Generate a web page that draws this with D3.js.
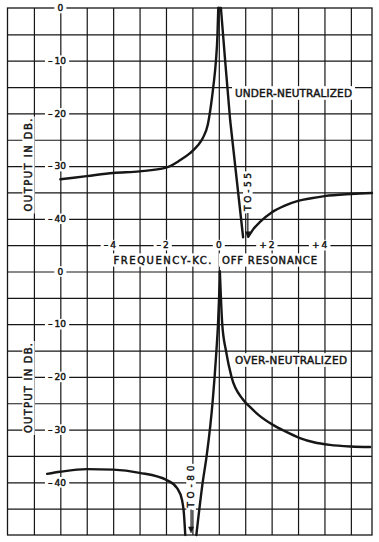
<!DOCTYPE html>
<html><head><meta charset="utf-8">
<script src="https://cdn.jsdelivr.net/npm/d3@7/dist/d3.min.js"></script>
<style>
html,body{margin:0;padding:0;background:#fff;}
svg{display:block;}
text{font-family:"DejaVu Sans",sans-serif;font-weight:normal;fill:#141414;stroke:#141414;stroke-width:0.45px;}
</style></head><body>
<svg id="c" width="379" height="542"></svg>
<script>
// ---------- data ----------
const freqTicks = [-4, -2, 0, 2, 4];
const freqTickLabels = ["-4", "-2", "0", "+2", "+4"];
const dbTicks = [0, -10, -20, -30, -40];
const dbTickLabels = ["0", "-10", "-20", "-30", "-40"];
const xTitleLeft = "FREQUENCY-KC.";
const xTitleRight = "OFF RESONANCE";
const yTitle = "OUTPUT IN DB.";
const panelLabels = ["UNDER-NEUTRALIZED", "OVER-NEUTRALIZED"];
const offScaleLabels = ["TO-55", "TO-80"];

// under-neutralized: [kc, dB]
const underLeft = [[-6,-32.5],[-5,-31.9],[-4,-31.3],[-3,-31.0],[-2,-30.3],[-1.47,-28.9],[-1.1,-27.6],[-0.8,-26.1],[-0.6,-24.6],[-0.42,-22.2],[-0.3,-18.6],[-0.2,-14.6],[-0.11,-10.1],[-0.05,-5],[-0.02,0]];
const underDrop = [[-0.02,0],[0.08,0],[0.24,-10],[0.43,-21.3],[0.92,-43.5]];
const underRight = [[1.12,-43.4],[1.3,-42.0],[1.56,-40.6],[2.0,-38.8],[2.5,-37.5],[3.0,-36.6],[3.5,-36.1],[4.0,-35.7],[5.0,-35.3],[5.8,-35.1]];
// over-neutralized: [kc, dB]
const overLeft = [[-6.5,-38.4],[-6.0,-38.0],[-5.0,-37.5],[-4.0,-37.6],[-3.0,-38.2],[-1.96,-39.6],[-1.58,-41.1],[-1.39,-43.4],[-1.32,-46],[-1.27,-50]];
const overRise = [[-0.85,-50],[-0.61,-40],[-0.46,-35],[-0.23,-24.5],[-0.09,-15],[-0.03,-10],[0.01,-5],[0.04,0]];
const overRight = [[0.04,0],[0.08,-5],[0.13,-10],[0.27,-15],[0.48,-20],[0.9,-24.2],[1.18,-25.7],[1.5,-27.2],[2.05,-29.1],[2.5,-30.3],[3.07,-31.6],[3.6,-32.4],[4.2,-32.9],[5.0,-33.2],[5.73,-33.3]];

// ---------- layout ----------
const L = 7.5, R = 372, T = 8, M = 271.5, B = 535;
const ink = "#161616";
const svg = d3.select("#c");
svg.append("rect").attr("width",379).attr("height",542).attr("fill","#fff");

const x = d3.scaleLinear().domain([-8, 5.8]).range([L, R]);
const yTop = d3.scaleLinear().domain([0, -50]).range([T, M]);
const yBot = d3.scaleLinear().domain([0, -50]).range([M, B]);

// ---------- grid ----------
const grid = svg.append("g");
grid.append("g").attr("transform", `translate(0,${B})`)
  .call(d3.axisBottom(x).tickValues(d3.range(-7, 6)).tickSize(-(B - T)).tickFormat(""));
grid.append("g").attr("transform", `translate(${L},0)`)
  .call(d3.axisLeft(yTop).tickValues(d3.range(-5, -50, -5)).tickSize(-(R - L)).tickFormat(""));
grid.append("g").attr("transform", `translate(${L},0)`)
  .call(d3.axisLeft(yBot).tickValues(d3.range(0, -50, -5)).tickSize(-(R - L)).tickFormat(""));
grid.selectAll(".domain").remove();
grid.selectAll("line").attr("stroke", ink).attr("stroke-width", 1.2);
grid.append("rect").attr("x", L).attr("y", T).attr("width", R - L).attr("height", B - T)
  .attr("fill", "none").attr("stroke", ink).attr("stroke-width", 1.3);

// ---------- label helpers ----------
function boxText(str, px, py, size, rotate, len, padX, padY, anchor) {
  const g = svg.append("g").attr("transform", `translate(${px},${py}) rotate(${rotate || 0})`);
  const r = g.append("rect").attr("fill", "#fff").attr("stroke", "none");
  const t = g.append("text").attr("text-anchor", anchor || "middle").attr("dy", "0.36em")
    .style("font-size", size + "px").text(str);
  if (len) t.attr("textLength", len).attr("lengthAdjust", "spacing");
  const bb = t.node().getBBox();
  const ch = size * 0.73;
  r.attr("x", bb.x - padX).attr("y", -ch / 2 - padY).attr("width", bb.width + 2 * padX).attr("height", ch + 2 * padY);
  return g;
}
function tickText(str, px, py, size) {
  const g = svg.append("g").attr("transform", `translate(${px},${py})`);
  const r = g.append("rect").attr("fill", "#fff").attr("stroke", "none");
  const sign = /^[-+]/.test(str) ? str[0] : "";
  const digits = sign ? str.slice(1) : str;
  const td = g.append("text").attr("text-anchor", "middle").attr("dy", "0.36em")
    .style("font-size", size + "px").text(digits);
  const dw = td.node().getBBox().width;
  let left = -dw / 2;
  if (sign) {
    const ts = g.append("text").attr("text-anchor", "end").attr("x", -dw / 2 - 2).attr("dy", "0.36em")
      .style("font-size", size + "px").text(sign === "-" ? "\u2013" : "+");
    left = ts.node().getBBox().x;
  }
  const ch = size * 0.73;
  r.attr("x", left - 3).attr("y", -ch / 2 - 2).attr("width", dw / 2 - left + 6).attr("height", ch + 4);
}

// y tick labels (both panels) on the -6 kc line
dbTicks.forEach((d, i) => {
  tickText(dbTickLabels[i], x(-6), yTop(d), 9);
  tickText(dbTickLabels[i], x(-6), yBot(d), 9);
});
// x tick labels on the -45 dB line of the upper panel
freqTicks.forEach((d, i) => tickText(freqTickLabels[i], x(d), yTop(-45), 9));

// axis titles
boxText(xTitleLeft, 162.5, 260, 10, 0, 98, 2, 3);
boxText(xTitleRight, 269.5, 260, 10, 0, 95, 3, 3);
boxText(yTitle, 28.5, 165, 10, -90, 93, 2, 2.5);
boxText(yTitle, 28.5, 388, 10, -90, 90, 2, 2.5);

// panel labels
boxText(panelLabels[0], 293.5, 93, 10.5, 0, 117, 3, 3);
boxText(panelLabels[1], 291, 360, 10.5, 0, 112, 3, 3);

// ---------- curves ----------
const lineTop = d3.line().x(d => x(d[0])).y(d => yTop(d[1])).curve(d3.curveMonotoneX);
const lineBot = d3.line().x(d => x(d[0])).y(d => yBot(d[1])).curve(d3.curveMonotoneX);
const lineTopLin = d3.line().x(d => x(d[0])).y(d => yTop(d[1])).curve(d3.curveLinear);
const curves = svg.append("g").attr("fill", "none").attr("stroke", ink)
  .attr("stroke-width", 2.4).attr("stroke-linejoin", "round").attr("stroke-linecap", "round");
curves.append("path").attr("d", lineTop(underLeft));
curves.append("path").attr("d", lineTopLin(underDrop));
curves.append("path").attr("d", lineTop(underRight));
curves.append("path").attr("d", lineBot(overLeft));
curves.append("path").attr("d", lineBot(overRise));
curves.append("path").attr("d", lineBot(overRight));

// ---------- off-scale arrows ----------
function offArrow(str, px, yStart, yTip, len) {
  boxText(str, px, yStart, 9, -90, len, 1.5, 1.5, "start");
  const a = svg.append("g").attr("stroke", ink).attr("fill", ink);
  a.append("line").attr("x1", px).attr("x2", px).attr("y1", yStart + 2).attr("y2", yTip - 3)
    .attr("stroke-width", 1.2);
  a.append("path").attr("d", `M${px - 2.5},${yTip - 6}L${px + 2.5},${yTip - 6}L${px},${yTip}Z`).attr("stroke-width", 0.5);
}
offArrow(offScaleLabels[0], x(1.1), yTop(-38.5), yTop(-43.6), 38);
offArrow(offScaleLabels[1], x(-1.05), yBot(-44.8), yBot(-49.6), 42);
</script>
</body></html>
